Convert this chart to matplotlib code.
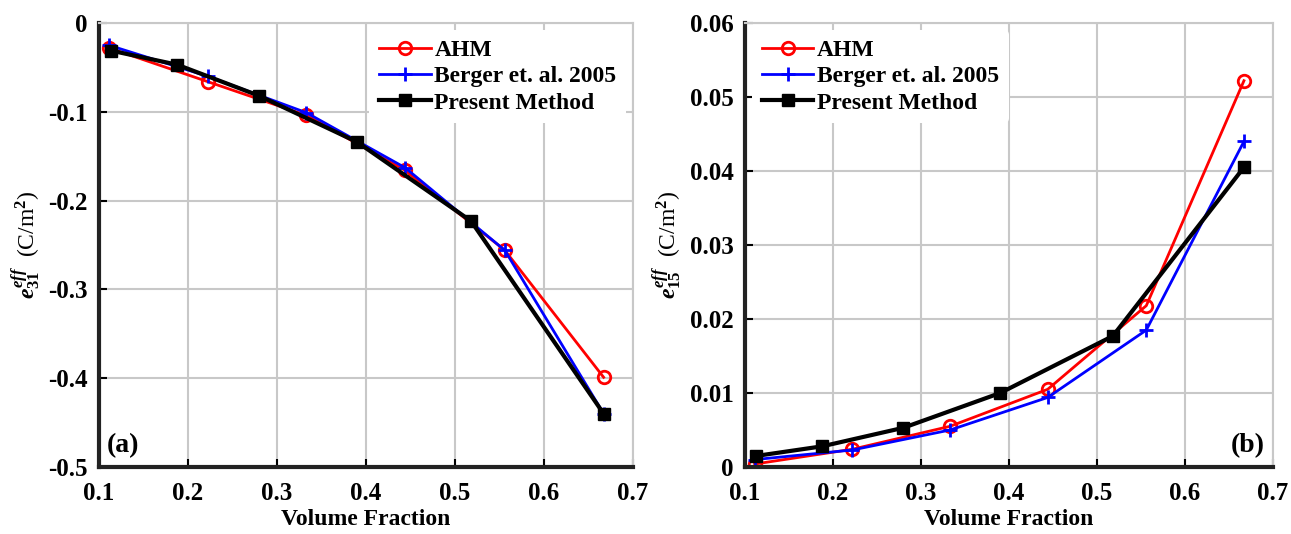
import matplotlib
matplotlib.use("Agg")
import matplotlib.pyplot as plt

plt.rcParams['font.family'] = 'Liberation Serif'
plt.rcParams['font.weight'] = 'bold'
plt.rcParams['mathtext.fontset'] = 'custom'
plt.rcParams['mathtext.rm'] = 'Liberation Serif:bold'
plt.rcParams['mathtext.it'] = 'Liberation Serif:italic:bold'
plt.rcParams['mathtext.bf'] = 'Liberation Serif:bold'

# volume fractions
vf_ref = [0.111, 0.222, 0.333, 0.444, 0.556, 0.667]
vf_present = [0.113, 0.188, 0.280, 0.390, 0.518, 0.667]

# (a) e31
e31_ahm = [-0.028, -0.066, -0.104, -0.166, -0.256, -0.399]
e31_berger = [-0.025, -0.060, -0.101, -0.163, -0.256, -0.440]
e31_present = [-0.031, -0.047, -0.082, -0.134, -0.223, -0.440]

# (b) e15
e15_ahm = [0.0004, 0.0024, 0.0055, 0.0105, 0.0218, 0.0522]
e15_berger = [0.0010, 0.0023, 0.0050, 0.0094, 0.0185, 0.0440]
e15_present = [0.0015, 0.0028, 0.0053, 0.0100, 0.0177, 0.0405]

labels = ["AHM", "Berger et. al. 2005", "Present Method"]

fig = plt.figure(figsize=(12.91, 5.34), dpi=100)
ax1 = fig.add_axes([99/1291, 67/534, 534/1291, 444/534])
ax2 = fig.add_axes([745/1291, 67/534, 528/1291, 444/534])


def draw(ax, ahm, berger, present):
    ax.plot(vf_ref, ahm, color='red', lw=2, marker='o', ms=9, mfc='none',
            mew=2, label=labels[0])
    ax.plot(vf_ref, berger, color='blue', lw=2, marker='+', ms=10, mew=2,
            label=labels[1])
    ax.plot(vf_present, present, color='black', lw=3, marker='s', ms=9,
            label=labels[2])
    ax.set_xlim(0.1, 0.7)
    ax.set_xticks([0.1, 0.2, 0.3, 0.4, 0.5, 0.6, 0.7])
    ax.grid(True, color='#c8c8c8', lw=1.5)
    ax.set_axisbelow(True)
    for s in ['left', 'bottom']:
        ax.spines[s].set_linewidth(3)
        ax.spines[s].set_color('#222222')
    for s in ['top', 'right']:
        ax.spines[s].set_linewidth(1.5)
        ax.spines[s].set_color('#c8c8c8')
    ax.tick_params(direction='in', length=6, width=1.5, labelsize=18,
                   pad=8)
    ax.tick_params(axis='x', pad=11)
    for t in ax.get_xticklabels() + ax.get_yticklabels():
        t.set_fontweight('bold')
    ax.set_xlabel("Volume Fraction", fontsize=17, fontweight='bold',
                  labelpad=3)


legend_kw = dict(frameon=True, edgecolor='none', framealpha=1,
                 handlelength=2.2, handletextpad=0.15, borderaxespad=0.3,
                 labelspacing=0.2, prop={'weight': 'bold', 'size': 17})

draw(ax1, e31_ahm, e31_berger, e31_present)
ax1.set_ylim(-0.5, 0)
ax1.set_yticks([-0.5, -0.4, -0.3, -0.2, -0.1, 0])
ax1.set_yticklabels(['-0.5', '-0.4', '-0.3', '-0.2', '-0.1', '0'])
ax1.set_ylabel(r'$e^{eff}_{\mathit{31}}$  (C/m$^{\mathbf{2}}$)', fontsize=17,
               labelpad=4)
ax1.legend(loc='upper right', **legend_kw)
ax1.text(0.015, 0.02, '(a)', transform=ax1.transAxes, fontsize=20,
         fontweight='bold', ha='left', va='bottom')

draw(ax2, e15_ahm, e15_berger, e15_present)
ax2.set_ylim(0, 0.06)
ax2.set_yticks([0, 0.01, 0.02, 0.03, 0.04, 0.05, 0.06])
ax2.set_yticklabels(['0', '0.01', '0.02', '0.03', '0.04', '0.05', '0.06'])
ax2.set_ylabel(r'$e^{eff}_{\mathit{15}}$  (C/m$^{\mathbf{2}}$)', fontsize=17,
               labelpad=4)
ax2.legend(loc='upper left', **legend_kw)
ax2.text(0.985, 0.02, '(b)', transform=ax2.transAxes, fontsize=20,
         fontweight='bold', ha='right', va='bottom')

fig.savefig("out.png", dpi=100)
